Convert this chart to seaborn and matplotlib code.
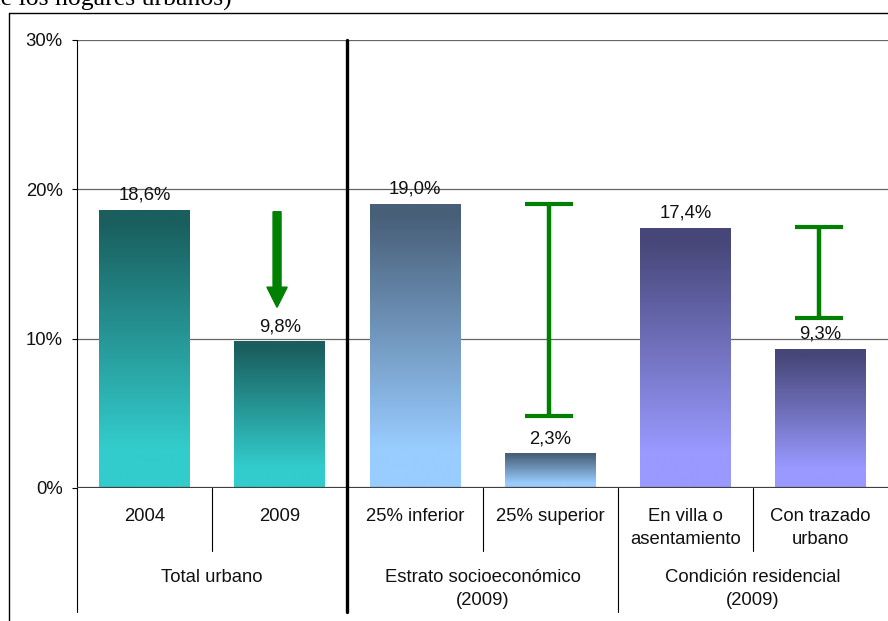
import numpy as np
import pandas as pd
import matplotlib
matplotlib.use("Agg")
import matplotlib.pyplot as plt
import matplotlib.transforms as mtransforms
from matplotlib.lines import Line2D
from matplotlib.colors import to_rgb
import seaborn as sns

# --- datos ---
categorias = ["2004", "2009", "25% inferior", "25% superior",
              "En villa o\nasentamiento", "Con trazado\nurbano"]
valores = [18.6, 9.8, 19.0, 2.3, 17.4, 9.3]
etiquetas = ["18,6%", "9,8%", "19,0%", "2,3%", "17,4%", "9,3%"]
grupos = ["Total urbano", "Estrato socioeconómico\n(2009)", "Condición residencial\n(2009)"]
grupo_centro = [0.5, 2.5, 4.5]
color_sup = ["#1a5e5e", "#1a5e5e", "#485f78", "#485f78", "#464678", "#464678"]
color_inf = ["#33cccc", "#33cccc", "#99ccff", "#99ccff", "#9999ff", "#9999ff"]
ticks_y = [0, 10, 20, 30]
ticks_y_lab = ["0%", "10%", "20%", "30%"]

# descenso entre 2004 y 2009
flecha_desde = 18.5
flecha_hasta = 12.1
# brechas dentro de cada grupo
brecha_x = [3, 5]
brecha_sup = [19.0, 17.5]
brecha_inf = [4.8, 11.4]

W, H = 888, 621
FS = 13.3
sns.set_theme(style="white")
plt.rcParams["font.family"] = ["Liberation Sans", "DejaVu Sans"]
plt.rcParams["font.size"] = FS

fig = plt.figure(figsize=(W / 100, H / 100), dpi=100)
ax_l, ax_b = 77 / W, (H - 488) / H
ax_w, ax_h = 1.0 - ax_l, (488 - 40) / H
ax = fig.add_axes([ax_l, ax_b, ax_w, ax_h])

df = pd.DataFrame({"cat": categorias, "val": valores})
sns.barplot(data=df, x="cat", y="val", order=categorias, width=0.67,
            color="white", ax=ax, zorder=2)

# relleno degradado de cada barra
perfil = np.clip((np.linspace(0, 1, 256) - 0.04) / 0.82, 0, 1)
for i, p in enumerate(ax.patches):
    x0, w, h = p.get_x(), p.get_width(), p.get_height()
    c0, c1 = np.array(to_rgb(color_sup[i])), np.array(to_rgb(color_inf[i]))
    grad = (c0[None, :] * (1 - perfil[:, None]) + c1[None, :] * perfil[:, None])[:, None, :]
    p.set_facecolor("none")
    p.set_edgecolor("none")
    ax.imshow(grad, extent=[x0, x0 + w, 0, h], origin="upper", aspect="auto",
              interpolation="bilinear", zorder=2)

for i, (v, lab) in enumerate(zip(valores, etiquetas)):
    ax.annotate(lab, (i, v), xytext=(0, 7.5), textcoords="offset points",
                ha="center", va="baseline", fontsize=FS, color="#111111", zorder=4)

# flecha de descenso
ax.arrow(0.98, flecha_desde, 0, flecha_hasta - flecha_desde, width=0.059,
         head_width=0.15, head_length=1.35, length_includes_head=True,
         color="#008000", zorder=3)

# brechas
for bx, bs, bi in zip(brecha_x, brecha_sup, brecha_inf):
    ax.errorbar([bx - 0.01], [(bs + bi) / 2], yerr=[(bs - bi) / 2], fmt="none",
                ecolor="#008000", elinewidth=3.2, capsize=17.3, capthick=3.0, zorder=3)

ax.set_xlim(-0.5, 5.5)
ax.set_ylim(0, 30)
ax.set_yticks(ticks_y)
ax.set_yticklabels(ticks_y_lab)
ax.set_xticks(range(len(categorias)))
ax.set_xticklabels(categorias, linespacing=1.45)
ax.set_xlabel("")
ax.set_ylabel("")
for s in ax.spines.values():
    s.set_visible(False)
ax.tick_params(axis="y", length=3.6, width=0.8, color="black", pad=6.7,
               labelsize=FS, left=True)
ax.tick_params(axis="x", length=0, pad=14.5, labelsize=FS)
for t in ax.get_xticklabels() + ax.get_yticklabels():
    t.set_color("#111111")

ax.yaxis.grid(True, color="#666666", linewidth=0.9)
ax.set_axisbelow(True)
ax.axhline(0, color="#404040", linewidth=1.6, zorder=5)


def ay(py):
    return ((H - py) / H - ax_b) / ax_h


trans = mtransforms.blended_transform_factory(ax.transData, ax.transAxes)
# separadores de categorías y grupos
for xs in [0.5, 2.5, 4.5]:
    ax.plot([xs, xs], [0, ay(551)], transform=trans, color="black", lw=0.8, clip_on=False)
ax.plot([-0.5, -0.5], [1, ay(612)], transform=trans, color="black", lw=0.8, clip_on=False)
ax.plot([3.5, 3.5], [0, ay(612)], transform=trans, color="black", lw=0.8, clip_on=False)
ax.plot([1.5, 1.5], [1, ay(612)], transform=trans, color="black", lw=2.4,
        clip_on=False, zorder=6)

for gx, g in zip(grupo_centro, grupos):
    ax.text(gx, ay(569), g, transform=trans, ha="center", va="top",
            fontsize=FS, linespacing=1.45, color="#111111")

# marco exterior
fig.add_artist(Line2D([9 / W, 1.0], [(H - 13) / H] * 2, color="black", lw=1.0))
fig.add_artist(Line2D([9 / W] * 2, [0, (H - 13) / H], color="black", lw=1.0))

fig.text(232 / W, (H - 6) / H, "(porcentaje de los hogares urbanos)", ha="right",
         va="baseline", fontsize=18.5, family=["Liberation Serif", "DejaVu Serif"],
         color="black")

fig.savefig("out.png", dpi=100)
